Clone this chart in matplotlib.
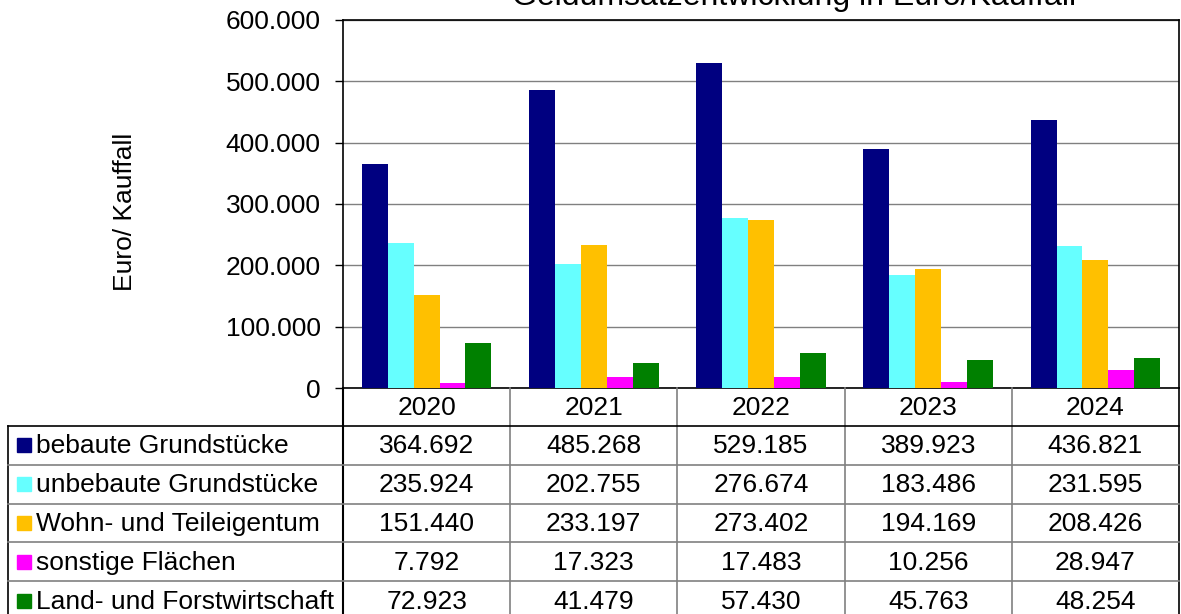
import matplotlib.pyplot as plt
from matplotlib.lines import Line2D
from matplotlib.patches import Rectangle

plt.rcParams['font.family'] = ['Liberation Sans', 'DejaVu Sans']

#########################################################
jahre = ['2020', '2021', '2022', '2023', '2024']
reihen = ['bebaute Grundstücke', 'unbebaute Grundstücke', 'Wohn- und Teileigentum',
          'sonstige Flächen', 'Land- und Forstwirtschaft']
bebaute = [364692, 485268, 529185, 389923, 436821]
unbebaute = [235924, 202755, 276674, 183486, 231595]
wohn = [151440, 233197, 273402, 194169, 208426]
sonstige = [7792, 17323, 17483, 10256, 28947]
land = [72923, 41479, 57430, 45763, 48254]
werte = [bebaute, unbebaute, wohn, sonstige, land]
farben = ['#000080', '#66FFFF', '#FFC000', '#FF00FF', '#008000']
y_ticks = [0, 100000, 200000, 300000, 400000, 500000, 600000]

titel = 'Geldumsatzentwicklung in Euro/Kauffall'
y_titel = 'Euro/ Kauffall'


def fmt(v):
    return f"{v:,}".replace(",", ".")


#########################################################
W, H = 1181, 614
fig = plt.figure(figsize=(W / 100, H / 100), dpi=100)

# pixel layout
ax_l, ax_r, ax_t, ax_b = 343, 1179, 20, 388
tab_l = 8
kopf_unten = 426
zeile_h = 38.8
fs = 19

ax = fig.add_axes([ax_l / W, 1 - ax_b / H, (ax_r - ax_l) / W, (ax_b - ax_t) / H])
breite = 0.155
for k, (serie, farbe) in enumerate(zip(werte, farben)):
    pos = [i + (k - 2) * breite for i in range(len(jahre))]
    ax.bar(pos, serie, width=breite, color=farbe, zorder=3)

ax.set_xlim(-0.5, len(jahre) - 0.5)
ax.set_ylim(0, 600000)
ax.set_yticks(y_ticks)
ax.set_yticklabels([fmt(v) for v in y_ticks], fontsize=fs)
ax.set_xticks([])
ax.tick_params(axis='y', direction='out', length=6, width=1, pad=10)
ax.yaxis.grid(True, color='#808080', linewidth=1)
ax.set_axisbelow(True)
for s in ax.spines.values():
    s.set_color('black')
    s.set_linewidth(1.2)

fig.text(794 / W, 1 - 5 / H, titel, ha='center', va='baseline', fontsize=23)
fig.text(125 / W, 1 - 212 / H, y_titel, ha='center', va='center', rotation=90, fontsize=fs)

# Tabelle unter dem Diagramm
tab = fig.add_axes([0, 0, 1, 1])
tab.set_xlim(0, W)
tab.set_ylim(H, 0)
tab.axis('off')
tab.patch.set_alpha(0)

n = len(jahre)
spalte_w = (ax_r - ax_l) / n
unten = kopf_unten + zeile_h * len(reihen)

# Spaltenlinien
for i in range(1, n):
    x = ax_l + i * spalte_w
    tab.add_line(Line2D([x, x], [ax_b, unten], color='#808080', lw=1.2))
tab.add_line(Line2D([ax_l, ax_l], [ax_b, unten], color='black', lw=1.5))
tab.add_line(Line2D([ax_r, ax_r], [ax_b, unten], color='black', lw=1.2))
tab.add_line(Line2D([tab_l, tab_l], [kopf_unten, unten], color='black', lw=1.2))
# Zeilenlinien
for j in range(len(reihen)):
    y = kopf_unten + j * zeile_h
    tab.add_line(Line2D([tab_l, ax_r], [y, y],
                        color='black' if j == 0 else '#808080', lw=1.2))

# Kopfzeile
for i, jahr in enumerate(jahre):
    tab.text(ax_l + (i + 0.5) * spalte_w, (ax_b + kopf_unten) / 2 + 1, jahr,
             ha='center', va='center', fontsize=fs)

# Datenzeilen
for j, (name, serie, farbe) in enumerate(zip(reihen, werte, farben)):
    ym = kopf_unten + (j + 0.5) * zeile_h
    tab.add_patch(Rectangle((17, ym - 7), 14, 14, color=farbe))
    tab.text(36, ym + 1, name, ha='left', va='center', fontsize=fs)
    for i, v in enumerate(serie):
        tab.text(ax_l + (i + 0.5) * spalte_w, ym + 1, fmt(v),
                 ha='center', va='center', fontsize=fs)

plt.savefig('out.png', dpi=100)
plt.close()
